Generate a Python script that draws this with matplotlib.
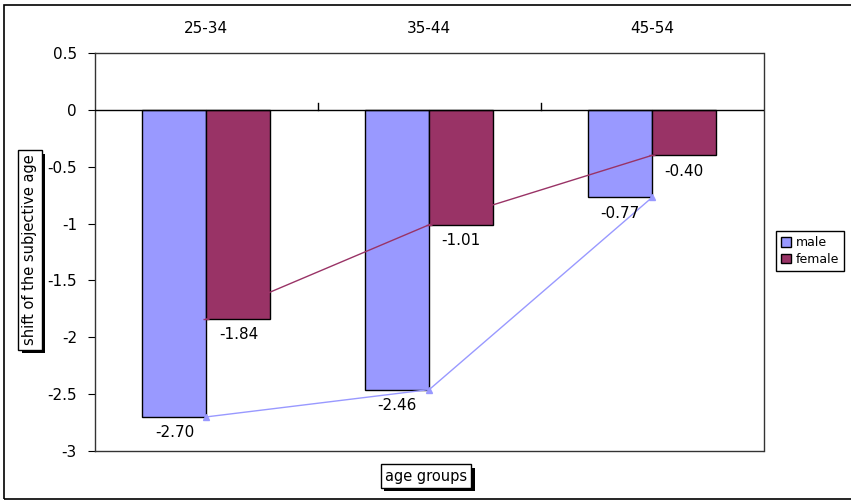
import matplotlib.pyplot as plt
import matplotlib.patheffects as pe
from matplotlib.patches import Rectangle
import numpy as np

plt.rcParams['font.family'] = ['DejaVu Sans']
plt.rcParams['axes.unicode_minus'] = False

groups = ['25-34', '35-44', '45-54']
male = [-2.70, -2.46, -0.77]
female = [-1.84, -1.01, -0.40]
series_names = ['male', 'female']
male_color = '#9999FF'
female_color = '#993366'

fig = plt.figure(figsize=(8.51, 5.01), dpi=100)
ax = fig.add_axes([95 / 851, 50 / 501, 668.5 / 851, 398 / 501])

x = np.arange(len(groups))
w = 0.287
bm = ax.bar(x - w / 2, male, w, color=male_color, edgecolor='black', linewidth=1, label=series_names[0], zorder=2)
bf = ax.bar(x + w / 2, female, w, color=female_color, edgecolor='black', linewidth=1, label=series_names[1], zorder=2)

# lines through the group centres
ax.plot(x, male, color=male_color, lw=1, marker='^', ms=4, zorder=3)
ax.plot(x, female, color=female_color, lw=1, marker='_', ms=5, zorder=3)

# value labels under each bar
for xi, v in zip(x - w / 2, male):
    ax.annotate('%.2f' % v, (xi, v), xytext=(0, -6), textcoords='offset points',
                ha='center', va='top', fontsize=11)
for xi, v in zip(x + w / 2, female):
    ax.annotate('%.2f' % v, (xi, v), xytext=(0, -6), textcoords='offset points',
                ha='center', va='top', fontsize=11)

ax.set_xlim(-0.5, 2.5)
ax.set_ylim(-3, 0.5)
ax.set_yticks(np.arange(-3, 0.51, 0.5))
ax.set_yticklabels(['%g' % t for t in np.arange(-3, 0.51, 0.5)], fontsize=11)
ax.tick_params(axis='y', direction='out', length=5, pad=8)

ax.xaxis.tick_top()
ax.set_xticks(x)
ax.set_xticklabels(groups, fontsize=11)
ax.tick_params(axis='x', length=0, pad=12)

ax.axhline(0, color='black', lw=1, zorder=4)
for b in [0.5, 1.5]:
    ax.plot([b, b], [0, 0.06], color='black', lw=1, zorder=4)
for s in ax.spines.values():
    s.set_color('#333333')
    s.set_linewidth(1)

# boxed axis titles with a shadow
def boxed(xf, yf, txt, rot):
    t = fig.text(xf, yf, txt, rotation=rot, ha='center', va='center', fontsize=10.5,
                 bbox=dict(boxstyle='square,pad=0.3', fc='white', ec='black', lw=1))
    t.get_bbox_patch().set_path_effects([
        pe.SimplePatchShadow(offset=(2.5, -2.5), shadow_rgbFace='black', alpha=1),
        pe.Normal()])
    return t

boxed(30 / 851, 1 - 250 / 501, 'shift of the subjective age', 90)
boxed(426 / 851, 1 - 476 / 501, 'age groups', 0)

leg = fig.legend(handles=[bm, bf], loc='center left', bbox_to_anchor=(776 / 851, 1 - 251 / 501),
                 fontsize=9, frameon=True, fancybox=False, edgecolor='black', framealpha=1,
                 handlelength=0.8, handleheight=0.8, handletextpad=0.4, borderpad=0.4,
                 labelspacing=0.3, borderaxespad=0)
leg.get_frame().set_linewidth(1)

# outer chart border
fig.patches.append(Rectangle((4 / 851, 2 / 501), 850 / 851, 494 / 501, transform=fig.transFigure,
                             fill=False, ec='black', lw=1.2))

fig.savefig('out.png', dpi=100)
